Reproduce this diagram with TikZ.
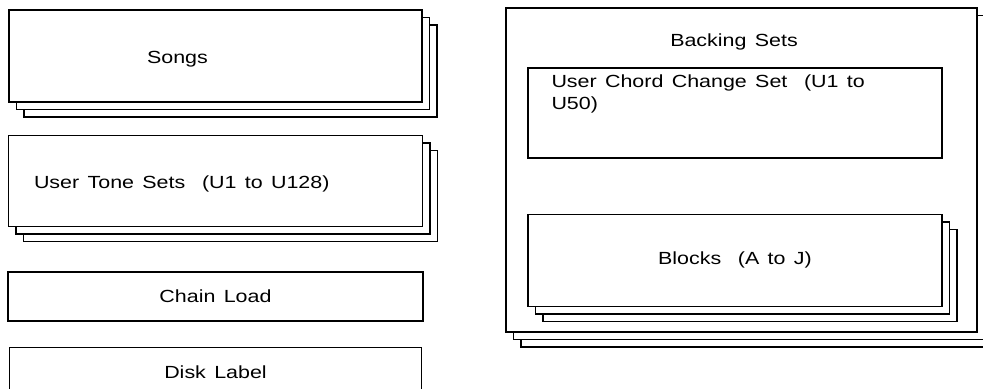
\documentclass[tikz,border=0pt]{standalone}
\usepackage{fontspec}
\setmainfont{Liberation Sans}[FakeStretch=1.22,WordSpace=1.4]
\usetikzlibrary{positioning,shadows}

\begin{document}
\begin{tikzpicture}[font=\fontsize{10}{12.5}\selectfont,
 box/.style={draw,fill=white,line width=0.8pt},
 stackbox/.style={box,
   copy shadow={shadow xshift=3mm,shadow yshift=-3mm},
   copy shadow={shadow xshift=1.5mm,shadow yshift=-1.5mm}}]
\useasboundingbox (0,0) rectangle (19.66,-7.76);
\clip (0,0) rectangle (19.66,-7.76);
\node[stackbox,minimum width=8.26cm,minimum height=1.84cm,
  label={[xshift=-7.6mm,yshift=-0.6mm]center:Songs}] (songs) at (4.31,-1.12) {};
\node[stackbox,minimum width=8.28cm,minimum height=1.82cm,below=6.4mm of songs,
  label={[anchor=west,xshift=4mm,yshift=-0.6mm]west:User Tone Sets\ \ (U1 to U128)}] (tone) {};
\node[box,minimum width=8.3cm,minimum height=0.98cm,below=8.8mm of tone] (chain) {Chain Load};
\node[box,minimum width=8.24cm,minimum height=0.98cm,below=5mm of chain] (disk) {Disk Label};
\node[stackbox,minimum width=9.42cm,minimum height=6.48cm] (backing) at (14.83,-3.4) {};
\node[below=4mm of backing.north,xshift=-1.5mm] (title) {Backing Sets};
\node[box,minimum width=8.28cm,minimum height=1.8cm,below=12mm of backing.north,xshift=-1.3mm,
  label={[anchor=north west,align=left,xshift=3.6mm,yshift=-0.3mm]north west:User Chord Change Set\ \ (U1 to\\U50)}] (chord) {};
\node[stackbox,minimum width=8.28cm,minimum height=1.84cm,below=11mm of chord] (blocks) {Blocks\ \ (A to J)};
\end{tikzpicture}
\end{document}
